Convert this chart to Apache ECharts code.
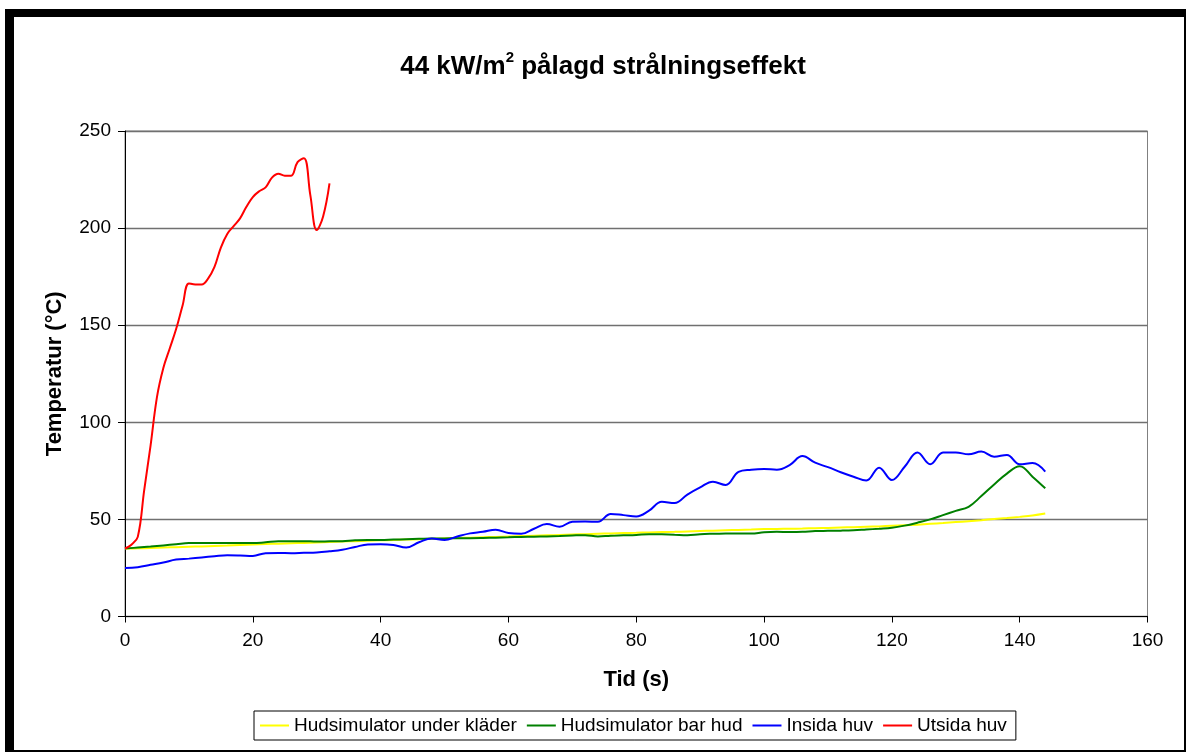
<!DOCTYPE html>
<html>
<head>
<meta charset="utf-8">
<script src="https://cdn.jsdelivr.net/npm/echarts@6/dist/echarts.min.js"></script>
<style>
  html, body { margin: 0; padding: 0; background: #fff; }
  #frame {
    position: absolute; left: 5px; top: 9px; width: 1181px; height: 743px;
    box-sizing: border-box; border-style: solid; border-color: #000;
    border-width: 8px 2px 2px 9px; background: #fff;
  }
  #chart { position: absolute; left: 0; top: 0; width: 1187px; height: 753px; }
</style>
</head>
<body>
<div id="frame"></div>
<div id="chart"></div>
<script>
// Time stamps (s) for the skin simulators and the inner hood sensor
const timeMain = [
  0, 2, 4, 6, 8, 10, 12, 14, 16, 18, 20, 22, 24, 26, 28, 30, 32, 34, 36, 38,
  40, 42, 44, 46, 48, 50, 52, 54, 56, 58, 60, 62, 64, 66, 68, 70, 72, 74, 76, 78,
  80, 82, 84, 86, 88, 90, 92, 94, 96, 98, 100, 102, 104, 106, 108, 110, 112, 114, 116, 118,
  120, 122, 124, 126, 128, 130, 132, 134, 136, 138, 140, 142, 144
];

// Time stamps (s) for the outer hood sensor
const timeOuter = [
  0, 1, 2, 3, 4, 5, 6, 7, 8, 9, 10, 11, 12, 13, 14, 15, 16,
  17, 18, 19, 20, 21, 22, 23, 24, 25, 26, 27, 28, 29, 30, 31, 32
];

const hudUnderKlader = [
  35.0, 35.1, 35.3, 35.5, 35.7, 35.9, 36.1, 36.3, 36.5, 36.8, 37.1, 37.3, 37.5, 37.7, 37.9, 38.1, 38.3, 38.6, 38.8, 39.0,
  39.2, 39.4, 39.6, 39.8, 40.0, 40.2, 40.4, 40.6, 40.8, 41.0, 41.2, 41.4, 41.6, 41.8, 42.0, 42.2, 42.4, 42.6, 42.8, 43.0,
  43.1, 43.3, 43.5, 43.6, 43.8, 44.0, 44.2, 44.4, 44.6, 44.8, 45.0, 45.1, 45.2, 45.3, 45.5, 45.6, 45.8, 46.0, 46.2, 46.4,
  46.7, 47.0, 47.3, 47.7, 48.1, 48.6, 49.1, 49.6, 50.2, 50.7, 51.3, 52.0, 53.0
];

const hudBarHud = [
  35.0, 35.5, 36.0, 36.6, 37.2, 37.8, 37.8, 37.9, 37.9, 37.8, 37.8, 38.2, 38.7, 38.7, 38.8, 38.6, 38.7, 38.8, 39.2, 39.4,
  39.4, 39.6, 39.8, 40.0, 40.2, 40.2, 40.3, 40.3, 40.4, 40.6, 40.8, 41.0, 41.1, 41.2, 41.4, 41.7, 41.9, 41.2, 41.6, 41.8,
  42.0, 42.4, 42.3, 42.1, 41.9, 42.4, 42.6, 42.7, 42.8, 42.7, 43.4, 43.6, 43.5, 43.6, 44.0, 44.1, 44.2, 44.4, 44.8, 45.2,
  45.7, 46.8, 48.3, 50.0, 52.2, 54.4, 56.5, 62.0, 68.0, 73.6, 77.4, 72.0, 66.0
];

const insidaHuv = [
  25.0, 25.4, 26.6, 27.8, 29.3, 29.8, 30.4, 31.0, 31.5, 31.4, 31.2, 32.6, 32.7, 32.6, 32.8, 33.0, 33.6, 34.4, 35.8, 37.1,
  37.2, 36.8, 35.5, 38.2, 40.2, 39.4, 41.2, 42.8, 43.6, 44.7, 43.0, 42.6, 45.2, 47.6, 46.2, 48.8, 48.9, 48.8, 52.8, 52.2,
  51.5, 54.5, 59.1, 58.4, 62.8, 66.5, 69.4, 67.7, 74.5, 75.6, 76.0, 75.6, 78.0, 82.6, 79.2, 76.9, 74.3, 72.0, 70.0, 76.6,
  70.3, 77.1, 84.4, 78.4, 84.4, 84.5, 83.5, 84.9, 82.3, 83.2, 78.4, 79.0, 74.6
];

const utsidaHuv = [
  35, 37, 41, 65, 88, 113, 128, 138, 148, 160, 171.5, 171, 171, 174, 180, 190, 197,
  201, 205, 211, 216, 219, 221, 226, 228, 227, 227, 234, 236, 217, 199, 206, 223
];

const seriesNames = ['Hudsimulator under kläder', 'Hudsimulator bar hud', 'Insida huv', 'Utsida huv'];
const seriesColors = ['#FFFF00', '#008000', '#0000FF', '#FF0000'];

const xTicks = { min: 0, max: 160, interval: 20 };
const yTicks = { min: 0, max: 250, interval: 50 };

function pairs(times, values) {
  return times.map((t, i) => [t, values[i]]);
}

const seriesData = [
  pairs(timeMain, hudUnderKlader),
  pairs(timeMain, hudBarHud),
  pairs(timeMain, insidaHuv),
  pairs(timeOuter, utsidaHuv)
];

const fontFamily = '"Liberation Sans", Arial, Helvetica, sans-serif';

const chart = echarts.init(document.getElementById('chart'), null, { renderer: 'canvas' });

chart.setOption({
  animation: false,
  backgroundColor: 'transparent',
  title: {
    text: '{a|44 kW/m}{sup|2}{a| pålagd strålningseffekt}',
    left: 603,
    top: 50,
    textAlign: 'center',
    padding: 0,
    textStyle: {
      fontFamily: fontFamily,
      rich: {
        a: { fontFamily: fontFamily, fontSize: 26, fontWeight: 'bold', color: '#000', lineHeight: 30, verticalAlign: 'bottom' },
        sup: { fontFamily: fontFamily, fontSize: 15, fontWeight: 'bold', color: '#000', lineHeight: 15, verticalAlign: 'top' }
      }
    }
  },
  legend: {
    left: 254,
    top: 711,
    orient: 'horizontal',
    icon: 'rect',
    itemWidth: 29,
    itemHeight: 2,
    itemGap: 10,
    padding: [4, 9, 4, 6],
    borderColor: '#000',
    borderWidth: 1,
    backgroundColor: '#fff',
    textStyle: { fontFamily: fontFamily, fontSize: 19, color: '#000', lineHeight: 21 },
    data: seriesNames
  },
  grid: {
    left: 125,
    right: 39.5,
    top: 131,
    bottom: 136.5,
    show: true,
    borderColor: '#808080',
    borderWidth: 1,
    backgroundColor: 'transparent'
  },
  xAxis: {
    type: 'value',
    min: xTicks.min,
    max: xTicks.max,
    interval: xTicks.interval,
    name: 'Tid (s)',
    nameLocation: 'middle',
    nameGap: 52,
    nameTextStyle: { fontFamily: fontFamily, fontSize: 22, fontWeight: 'bold', color: '#000' },
    axisLine: { show: true, onZero: false, lineStyle: { color: '#000', width: 1 } },
    axisTick: { show: true, inside: false, length: 6, lineStyle: { color: '#000' } },
    axisLabel: { margin: 15, fontFamily: fontFamily, fontSize: 19, color: '#000' },
    splitLine: { show: false }
  },
  yAxis: {
    type: 'value',
    min: yTicks.min,
    max: yTicks.max,
    interval: yTicks.interval,
    name: 'Temperatur (°C)',
    nameLocation: 'middle',
    nameGap: 59,
    nameRotate: 90,
    nameTextStyle: { fontFamily: fontFamily, fontSize: 22, fontWeight: 'bold', color: '#000' },
    axisLine: { show: true, onZero: false, lineStyle: { color: '#000', width: 1 } },
    axisTick: { show: true, inside: false, length: 7, lineStyle: { color: '#000' } },
    axisLabel: { margin: 14, fontFamily: fontFamily, fontSize: 19, color: '#000' },
    splitLine: { show: true, lineStyle: { color: '#707070', width: 1.3 } }
  },
  series: seriesNames.map((name, i) => ({
    name: name,
    type: 'line',
    data: seriesData[i],
    smooth: 0.4,
    showSymbol: false,
    symbol: 'none',
    color: seriesColors[i],
    lineStyle: { color: seriesColors[i], width: 2 },
    itemStyle: { color: seriesColors[i] },
    z: 2 + i
  }))
});
</script>
</body>
</html>
